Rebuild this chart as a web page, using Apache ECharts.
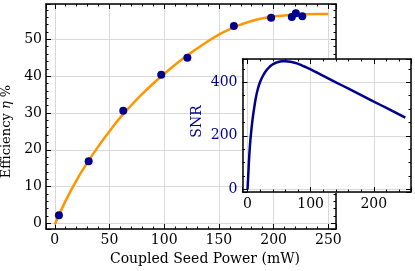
<!DOCTYPE html>
<html>
<head>
<meta charset="utf-8">
<script src="https://cdn.jsdelivr.net/npm/echarts@6/dist/echarts.min.js"></script>
<style>
html,body{margin:0;padding:0;background:#fff;}
#c{width:415px;height:271px;}
</style>
</head>
<body>
<div id="c"></div>
<script>
// Measured efficiency points (mW, %)
const measX = [3.8, 31.0, 62.6, 97.3, 121.2, 163.7, 197.7, 216.6, 220.3, 226.2];
const measY = [2.2, 16.9, 30.6, 40.4, 45.0, 53.6, 55.9, 56.1, 57.1, 56.3];
// Fitted efficiency curve
const fitX = [0,10,20,30,40,50,60,70,80,90,100,110,120,130,140,150,160,170,180,190,200,210,220,230,240,250];
const fitY = [-0.3,6.2,11.8,16.6,21.0,25.0,28.8,32.1,35.2,38.0,40.6,43.1,45.4,47.5,49.5,51.3,52.8,54.0,55.0,55.7,56.2,56.5,56.7,56.85,56.9,56.9];
// Inset SNR curve
const snrX = [0,2,4,6,8,10,13,16,20,25,30,35,40,45,50,55,60,70,80,90,100,120,140,160,180,200,220,240,250];
const snrY = [0,95,170,220,262,296,340,372,402,427,445,458,467,473,477,479,479,476,469,459,448,424,400,376,352,328,304,280,268];

const FONT = 'DejaVu Serif';
const NAVY = '#00008B';
const ORANGE = '#FF9500';

function pairs(xs, ys){ return xs.map((x,i)=>[x, ys[i]]); }

function axisCommon(o){
  return Object.assign({
    type:'value',
    axisLine:{show:true, onZero:false, lineStyle:{color:'#000', width:1.5}},
    axisTick:{show:true, inside:true, length:5, lineStyle:{color:'#000', width:1}},
    minorTick:{show:true, splitNumber:5, length:2.5, lineStyle:{color:'#000', width:1}},
    splitLine:{show:false},
    axisLabel:{show:false}
  }, o);
}

const chart = echarts.init(document.getElementById('c'), null, {renderer:'canvas'});
const option = {
  animation:false,
  backgroundColor:'#fff',
  textStyle:{fontFamily:FONT},
  grid:[
    {left:46, right:79, top:4, bottom:42, containLabel:false, outerBoundsMode:'none', z:0},
    {left:242.5, right:4, top:59, bottom:79, containLabel:false, outerBoundsMode:'none', show:true, backgroundColor:'#fff', borderWidth:0, z:10}
  ],
  xAxis:[
    axisCommon({gridIndex:0, position:'bottom', min:-8, max:257, splitNumber:5,
      splitLine:{show:true, lineStyle:{color:'#d9d9d9', width:1}},
      axisLabel:{show:true, color:'#000', fontSize:14, fontFamily:FONT, margin:4, showMinLabel:false, showMaxLabel:false},
      name:'Coupled Seed Power (mW)', nameLocation:'middle', nameGap:19,
      nameTextStyle:{color:'#000', fontSize:14, fontFamily:FONT, padding:[0,0,0,28]}}),
    axisCommon({gridIndex:0, position:'top', min:-8, max:257, splitNumber:5}),
    axisCommon({gridIndex:1, position:'bottom', min:-8, max:259, splitNumber:3, z:11,
      splitLine:{show:true, lineStyle:{color:'#d9d9d9', width:1}},
      axisLabel:{show:true, color:'#000', fontSize:14, fontFamily:FONT, margin:5, showMinLabel:false, showMaxLabel:false}}),
    axisCommon({gridIndex:1, position:'top', min:-8, max:259, splitNumber:3, z:11})
  ],
  yAxis:[
    axisCommon({gridIndex:0, position:'left', min:-1.5, max:59.6, splitNumber:6,
      splitLine:{show:true, lineStyle:{color:'#d9d9d9', width:1}},
      axisLabel:{show:true, color:'#000', fontSize:14, fontFamily:FONT, margin:4, showMinLabel:false, showMaxLabel:false},
      name:'Efficiency {i|η} %', nameLocation:'middle', nameGap:22,
      nameTextStyle:{color:'#000', fontSize:13, fontFamily:FONT, padding:[0,30,0,0],
        rich:{i:{fontStyle:'italic', fontSize:13, fontFamily:FONT, color:'#000'}}}}),
    axisCommon({gridIndex:0, position:'right', min:-1.5, max:59.6, splitNumber:6}),
    axisCommon({gridIndex:1, position:'left', min:-10, max:487, splitNumber:2, z:11,
      minorTick:{show:true, splitNumber:4, length:2.5, lineStyle:{color:'#000', width:1}},
      splitLine:{show:true, lineStyle:{color:'#d9d9d9', width:1}},
      axisLabel:{show:true, color:NAVY, fontSize:14, fontFamily:FONT, margin:5, showMinLabel:false, showMaxLabel:false},
      name:'SNR', nameLocation:'middle', nameGap:38,
      nameTextStyle:{color:NAVY, fontSize:14, fontFamily:FONT, padding:[0,0,0,8]}}),
    axisCommon({gridIndex:1, position:'right', min:-10, max:487, splitNumber:2, z:11,
      minorTick:{show:true, splitNumber:4, length:2.5, lineStyle:{color:'#000', width:1}}})
  ],
  series:[
    {type:'line', xAxisIndex:0, yAxisIndex:0, data:pairs(fitX, fitY), smooth:true,
      showSymbol:false, symbol:'none', lineStyle:{color:ORANGE, width:2.5}, z:3},
    {type:'scatter', xAxisIndex:0, yAxisIndex:0, data:pairs(measX, measY), symbolSize:8,
      itemStyle:{color:NAVY, opacity:1}, z:4},
    {type:'line', xAxisIndex:2, yAxisIndex:2, data:pairs(snrX, snrY), smooth:true,
      showSymbol:false, symbol:'none', lineStyle:{color:NAVY, width:2.5}, z:12}
  ]
};
chart.setOption(option);
</script>
</body>
</html>
